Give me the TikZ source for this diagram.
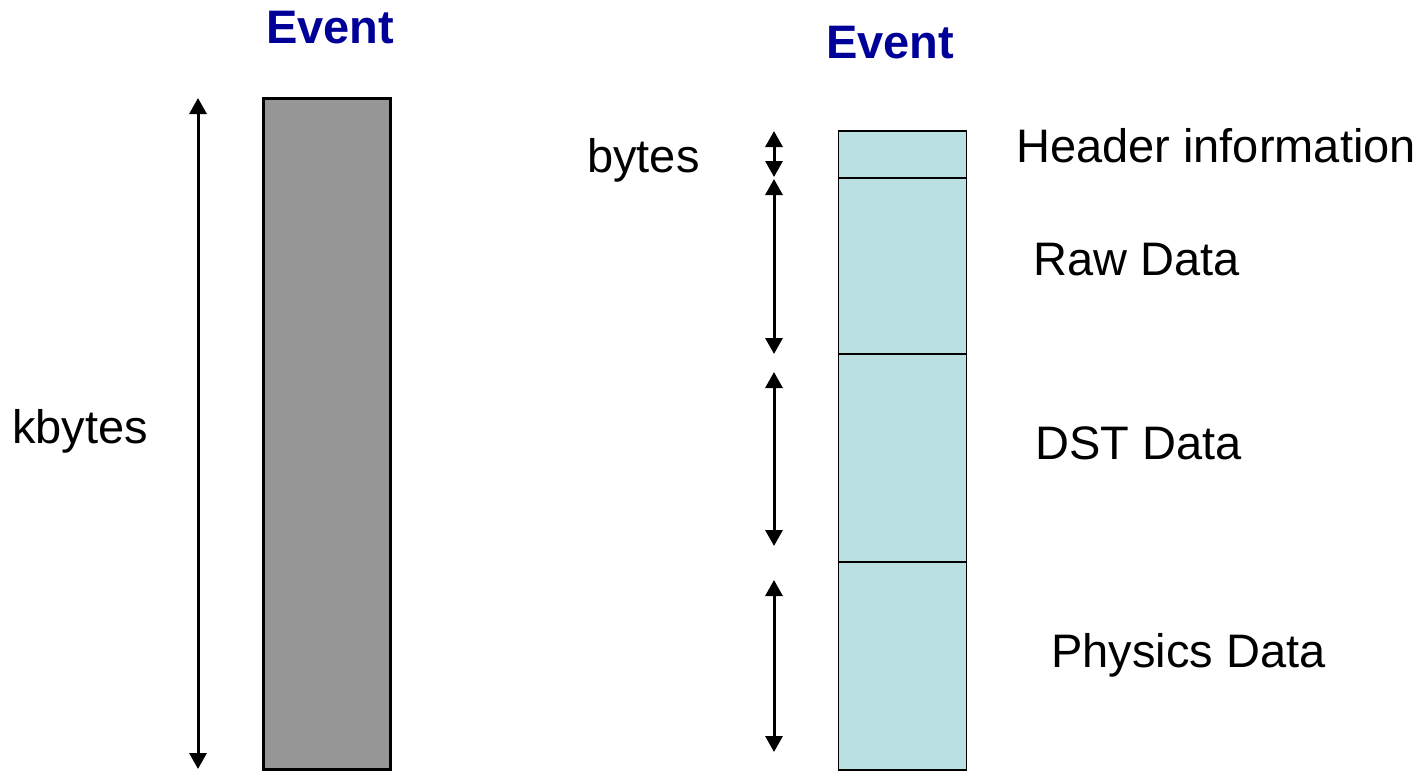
\documentclass[tikz,border=0pt]{standalone}
\usepackage{fontspec}
\setmainfont{Liberation Sans}
\usetikzlibrary{arrows.meta}
\definecolor{evblue}{RGB}{0,0,153}
\definecolor{evgray}{RGB}{150,150,150}
\definecolor{evteal}{RGB}{187,224,227}
\tikzset{
  lbl/.style={anchor=base west, inner sep=0pt, font=\fontsize{47}{56}\selectfont},
  ttl/.style={lbl, font=\fontsize{47}{56}\selectfont\bfseries, text=evblue},
  graybox/.style={draw=black, line width=3pt, fill=evgray, anchor=north west, inner sep=0pt, outer sep=0pt, minimum width=127pt},
  tealbox/.style={draw=black, line width=1.8pt, fill=evteal, anchor=north west, inner sep=0pt, outer sep=0pt, minimum width=128pt},
  dim/.style={line width=3pt, {Triangle[width=17pt,length=16pt]}-{Triangle[width=17pt,length=16pt]}}
}
\begin{document}
\begin{tikzpicture}[x=1pt,y=-1pt]
\useasboundingbox[fill=white] (0,0) rectangle (1425,772);
% left part
\node[ttl] (t1) at (266,43) {Event};
\node[graybox, minimum height=671pt] (ev) at (263.5,98.5) {};
\coordinate (la) at (198,98);
\coordinate (lb) at (198,769);
\draw[dim] (la) -- (lb);
\node[lbl] (kb) at (12,443) {kbytes};
% right part
\node[ttl] (t2) at (826,58) {Event};
\node[tealbox, minimum height=47pt] (hd) at (838.5,131) {};
\node[tealbox, minimum height=176pt] (raw) at (838.5,178) {};
\node[tealbox, minimum height=208pt] (dst) at (838.5,354) {};
\node[tealbox, minimum height=208pt] (phy) at (838.5,562) {};
\coordinate (a1) at (774,131);
\coordinate (a2) at (774,177);
\coordinate (b1) at (774,179);
\coordinate (b2) at (774,354);
\coordinate (c1) at (774,372);
\coordinate (c2) at (774,546);
\coordinate (d1) at (774,580);
\coordinate (d2) at (774,752);
\draw[dim] (a1) -- (a2);
\draw[dim] (b1) -- (b2);
\draw[dim] (c1) -- (c2);
\draw[dim] (d1) -- (d2);
\node[lbl] (by) at (587,172) {bytes};
\node[lbl] (hl) at (1016,162) {Header information};
\node[lbl] (rl) at (1033,275) {Raw Data};
\node[lbl] (dl) at (1035,459) {DST Data};
\node[lbl] (pl) at (1051,667) {Physics Data};
\end{tikzpicture}
\end{document}
